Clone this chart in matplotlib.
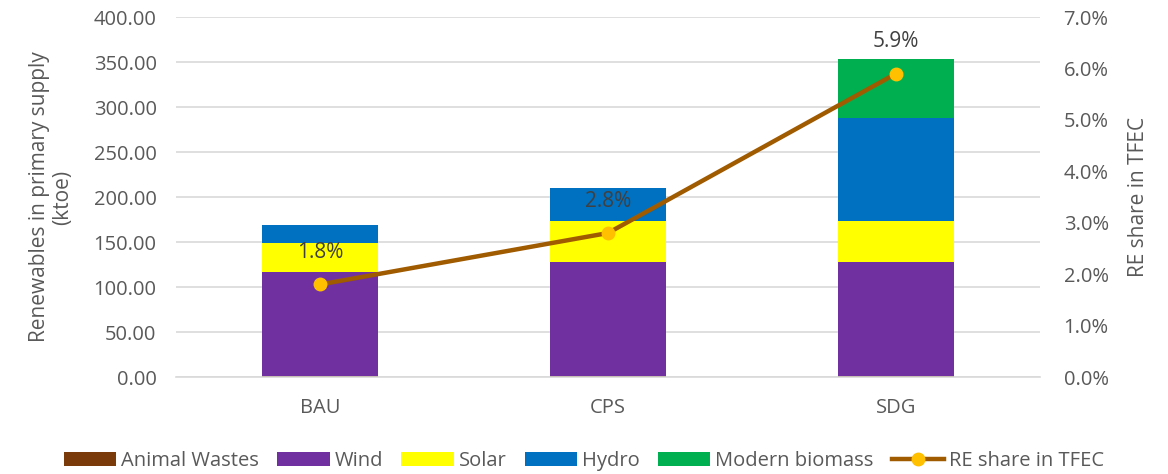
import matplotlib
matplotlib.use("Agg")
import matplotlib.pyplot as plt
from matplotlib.ticker import FuncFormatter, MultipleLocator

plt.rcParams['font.family'] = ['Open Sans', 'DejaVu Sans']

scenarios = ["BAU", "CPS", "SDG"]
animal_wastes = [1.0, 1.0, 1.0]
wind = [116.0, 127.0, 127.0]
solar = [32.0, 45.0, 45.0]
hydro = [20.0, 36.5, 115.0]
modern_biomass = [0.0, 0.0, 65.0]
re_share = [1.8, 2.8, 5.9]

series = [
    ("Animal Wastes", animal_wastes, "#7B3A0A"),
    ("Wind", wind, "#7030A0"),
    ("Solar", solar, "#FFFF00"),
    ("Hydro", hydro, "#0070C0"),
    ("Modern biomass", modern_biomass, "#00B050"),
]

text_col = "#595959"
fig = plt.figure(figsize=(11.68, 4.74), dpi=100)
ax = fig.add_axes([0.1507, 0.2046, 0.7397, 0.7595])
ax2 = ax.twinx()

x = list(range(len(scenarios)))
bottom = [0.0] * len(scenarios)
for name, vals, col in series:
    ax.bar(x, vals, 0.4, bottom=bottom, color=col, label=name, zorder=2)
    bottom = [b + v for b, v in zip(bottom, vals)]

ax.set_xlim(-0.5, 2.5)
ax.set_ylim(0, 400)
ax.yaxis.set_major_locator(MultipleLocator(50))
ax.yaxis.set_major_formatter(FuncFormatter(lambda v, p: f"{v:.2f}"))
ax.grid(axis='y', color="#D9D9D9", linewidth=1.2, zorder=0)
ax.set_axisbelow(True)
ax.set_xticks(x)
ax.set_xticklabels(scenarios)
for s in ["top", "left", "right"]:
    ax.spines[s].set_visible(False)
ax.spines["bottom"].set_color("#D9D9D9")
ax.spines["bottom"].set_linewidth(1.2)
ax.tick_params(axis='y', length=0, labelsize=14.5, colors=text_col, pad=14)
ax.tick_params(axis='x', length=0, labelsize=14.5, colors=text_col, pad=15)
ax.set_ylabel("Renewables in primary supply\n(ktoe)", fontsize=15, color=text_col,
              labelpad=15, linespacing=1.1)

line, = ax2.plot(x, re_share, color="#A05A00", linewidth=3.2, marker='o',
                 markersize=9, markerfacecolor="#FFC000", markeredgecolor="#FFC000",
                 label="RE share in TFEC", zorder=3)
ax2.set_ylim(0, 7)
ax2.yaxis.set_major_locator(MultipleLocator(1))
ax2.yaxis.set_major_formatter(FuncFormatter(lambda v, p: f"{v:.1f}%"))
for s in ["top", "left", "right", "bottom"]:
    ax2.spines[s].set_visible(False)
ax2.tick_params(axis='y', length=0, labelsize=14.5, colors=text_col, pad=17)
ax2.set_ylabel("RE share in TFEC", fontsize=15, color=text_col, labelpad=14)

for xi, v in zip(x, re_share):
    ax2.annotate(f"{v:.1f}%", (xi, v), xytext=(0, 32), textcoords='offset pixels',
                 ha='center', va='center', fontsize=15, color="#404040")

h1, l1 = ax.get_legend_handles_labels()
h2, l2 = ax2.get_legend_handles_labels()
fig.legend(h1 + h2, l1 + l2, loc='center', ncol=6, bbox_to_anchor=(0.5, 0.027),
           frameon=False, fontsize=14.5, labelcolor=text_col, handlelength=2.6,
           handleheight=0.7, columnspacing=0.9, handletextpad=0.25, borderpad=0)

fig.savefig("out.png", dpi=100)
